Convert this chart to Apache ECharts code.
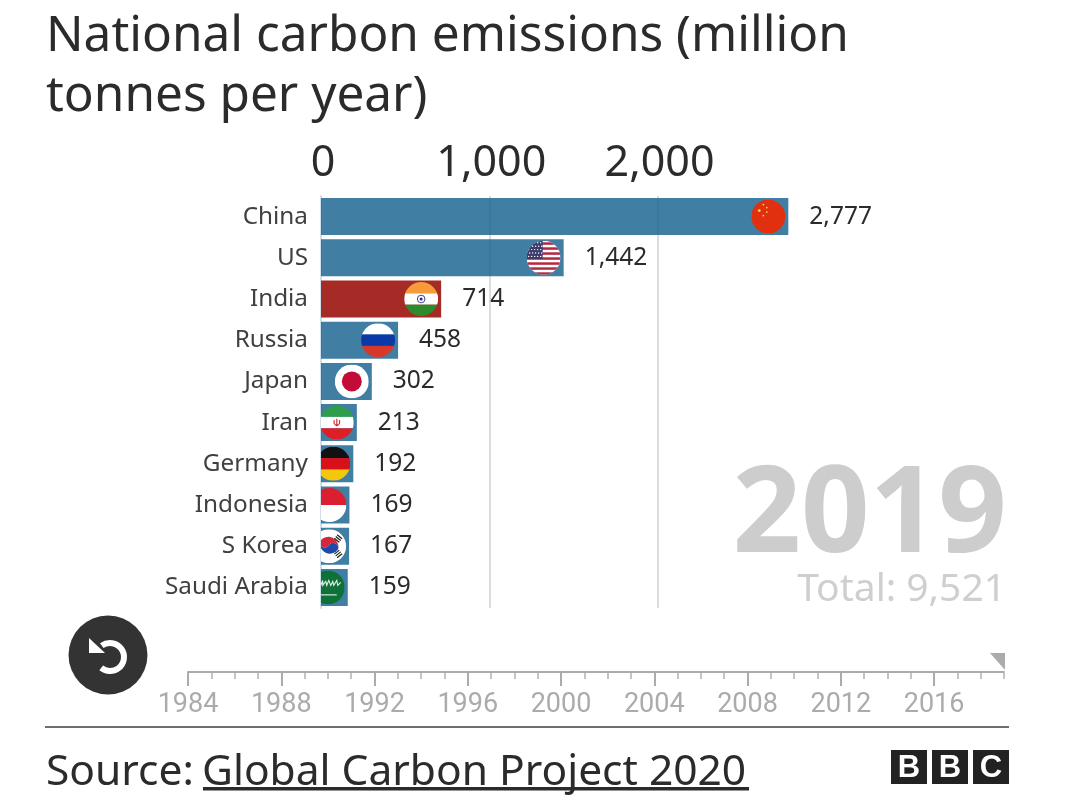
<!DOCTYPE html>
<html>
<head>
<meta charset="utf-8">
<title>National carbon emissions</title>
<style>html,body{margin:0;padding:0;background:#fff}#chart{width:1075px;height:806px}</style>
<script src="https://cdn.jsdelivr.net/npm/echarts@6/dist/echarts.min.js"></script>
</head>
<body>
<div id="chart"></div>
<script>
const chartTitle = 'National carbon emissions (million\ntonnes per year)';
const countries = ['China', 'US', 'India', 'Russia', 'Japan', 'Iran', 'Germany', 'Indonesia', 'S Korea', 'Saudi Arabia'];
const emissions = [2777, 1442, 714, 458, 302, 213, 192, 169, 167, 159];
const highlighted = 'India';
const currentYear = 2019;
const firstYear = 1984;
const totalEmissions = 9521;
const sourceLabel = 'Source: ';
const sourceName = 'Global Carbon Project 2020';

const INK = '#2b2b2b';
const BAR_BLUE = 'rgba(16,94,141,0.8)'; // translucent so gridlines show faintly through the bars
const BAR_RED = '#a62a26';
const FONT = '"Noto Sans", sans-serif';
const FLAG_R = 17;

// Circular flag artwork, one SVG body per country on a 34x34 canvas.
function stripes() {
  let s = '<rect width="34" height="34" fill="#fff"/>';
  for (let i = 0; i < 7; i++) {
    s += '<rect y="' + (1.5 + i * 5) + '" width="34" height="2.5" fill="#b5283f"/>';
  }
  s += '<rect width="16" height="18" fill="#3c3b6e"/>';
  for (let r = 0; r < 5; r++) {
    for (let c = 0; c < 5; c++) {
      s += '<circle cx="' + (2 + c * 3 + (r % 2)) + '" cy="' + (2 + r * 3.4) + '" r=".7" fill="#fff"/>';
    }
  }
  return s;
}
const flagArt = {
  'China': '<rect width="34" height="34" fill="#e0300f"/>' +
    '<circle cx="8" cy="11" r="1.4" fill="#f6d84a"/><circle cx="12" cy="5" r=".9" fill="#f6d84a"/>' +
    '<circle cx="15.5" cy="8" r=".9" fill="#f6d84a"/><circle cx="15.5" cy="12.5" r=".9" fill="#f6d84a"/>' +
    '<circle cx="12" cy="16" r=".9" fill="#f6d84a"/>',
  'US': stripes(),
  'India': '<rect width="34" height="11.3" fill="#f79a3a"/><rect y="11.3" width="34" height="11.4" fill="#fff"/>' +
    '<rect y="22.7" width="34" height="11.3" fill="#2e8b2c"/>' +
    '<circle cx="17" cy="17" r="3.8" fill="#fff" stroke="#2a2a80" stroke-width=".9"/><circle cx="17" cy="17" r="1.5" fill="#2a2a80"/>',
  'Russia': '<rect width="34" height="11.3" fill="#fff"/><rect y="11.3" width="34" height="11.4" fill="#0b3aa8"/>' +
    '<rect y="22.7" width="34" height="11.3" fill="#d8382a"/>',
  'Japan': '<rect width="34" height="34" fill="#fff"/><circle cx="17" cy="17" r="10" fill="#c40a36"/>',
  'Iran': '<rect width="34" height="11.3" fill="#2f9e4a"/><rect y="11.3" width="34" height="11.4" fill="#fff"/>' +
    '<rect y="22.7" width="34" height="11.3" fill="#de1f26"/>' +
    '<path d="M17 13.2v7M14.5 14.5c-1 2.5 0 5 2.5 5.5c2.5-.5 3.5-3 2.5-5.5" fill="none" stroke="#c8202a" stroke-width="1.1"/>',
  'Germany': '<rect width="34" height="11.3" fill="#111"/><rect y="11.3" width="34" height="11.4" fill="#d8101a"/>' +
    '<rect y="22.7" width="34" height="11.3" fill="#f5c70c"/>',
  'Indonesia': '<rect width="34" height="17" fill="#dc1f30"/><rect y="17" width="34" height="17" fill="#fff"/>',
  'S Korea': '<rect width="34" height="34" fill="#fff"/>' +
    '<path d="M8 12a10 10 0 0 1 18 8a5 5 0 0 0-9-4a5 5 0 0 1-9-4z" fill="#d5263a"/>' +
    '<path d="M8 12a10 10 0 0 0 18 8a5 5 0 0 0-9-4a5 5 0 0 1-9-4z" fill="#1f4aa8"/>' +
    '<path d="M25 5.5l5 4M23.6 7.3l5 4M22.2 9.100l5 4M25 28.500l5-4M23.600 26.700l5-4M22.200 24.900l5-4" stroke="#222" stroke-width="1.2"/>',
  'Saudi Arabia': '<rect width="34" height="34" fill="#0e7238"/>' +
    '<path d="M2 15l3-3l1 3l2-4l2 4l2-5v5l3-4l1 4l2-5l2 5l2-4l1 4l3-5l1 5l3-3" fill="none" stroke="#e4efe8" stroke-width="1.1"/>' +
    '<path d="M2 24.500h24" stroke="#fff" stroke-width="1"/>'
};
function flagImage(name) {
  const svg = '<svg xmlns="http://www.w3.org/2000/svg" width="68" height="68" viewBox="0 0 34 34">' +
    '<defs><clipPath id="c"><circle cx="17" cy="17" r="17"/></clipPath></defs>' +
    '<g clip-path="url(#c)">' + flagArt[name] + '</g></svg>';
  return 'data:image/svg+xml;charset=utf-8,' + encodeURIComponent(svg);
}

const chart = echarts.init(document.getElementById('chart'), null, { renderer: 'canvas' });

chart.setOption({
  animation: false,
  backgroundColor: '#fff',
  title: {
    text: chartTitle,
    left: 46, top: 7, padding: 0,
    textStyle: { fontFamily: FONT, fontWeight: 400, fontSize: 49.5, lineHeight: 60, color: INK }
  },
  grid: [
    { left: 321, top: 196, width: 488, height: 412 },
    { left: 188, top: 672, width: 816, height: 1 }
  ],
  xAxis: [
    {
      gridIndex: 0, type: 'value', position: 'top', min: 0, max: 2900, interval: 1000,
      axisLine: { show: false }, axisTick: { show: false },
      splitLine: { show: true, showMinLine: false, showMaxLine: false, lineStyle: { color: '#dcdcdc', width: 2 } },
      axisLabel: {
        margin: 11, padding: [0, 0, 0, 4], showMaxLabel: false, fontFamily: FONT, fontSize: 43, color: INK,
        formatter: v => v.toLocaleString('en-US')
      }
    },
    {
      // yearly minor ticks along the timeline
      gridIndex: 1, type: 'value', position: 'top', min: firstYear, max: currentYear, interval: 1,
      axisLine: { show: false }, splitLine: { show: false }, axisLabel: { show: false },
      axisTick: { inside: true, length: 6, lineStyle: { color: '#c4c4c4', width: 2 } }
    },
    {
      // four-yearly labelled ticks along the timeline
      gridIndex: 1, type: 'value', position: 'top', min: firstYear, max: currentYear, interval: 4,
      splitLine: { show: false },
      axisLine: { show: true, lineStyle: { color: '#ababab', width: 2 } },
      axisTick: { inside: true, length: 14, lineStyle: { color: '#ababab', width: 2 } },
      axisLabel: {
        inside: true, margin: 20, showMaxLabel: false, fontFamily: 'Roboto, sans-serif', fontSize: 27, color: '#ababab',
        formatter: v => String(v)
      }
    }
  ],
  yAxis: [
    {
      gridIndex: 0, type: 'category', inverse: true, data: countries,
      axisTick: { show: false },
      axisLine: { show: true, lineStyle: { color: '#cfe0ea', width: 2 } },
      axisLabel: { margin: 13, padding: [0, 0, 6, 0], fontFamily: FONT, fontSize: 24.3, color: '#404040' }
    },
    { gridIndex: 1, type: 'value', min: 0, max: 1, show: false }
  ],
  series: [
    {
      type: 'bar', xAxisIndex: 0, yAxisIndex: 0, barWidth: 37,
      data: emissions.map((v, i) => ({
        value: v,
        itemStyle: { color: countries[i] === highlighted ? BAR_RED : BAR_BLUE }
      })),
      label: {
        show: true, position: 'right', distance: 21, padding: [0, 0, 6, 0],
        fontFamily: FONT, fontSize: 24.5, color: INK,
        formatter: p => p.value.toLocaleString('en-US')
      }
    },
    {
      // flag discs sit just inside each bar's end and are cut off at the axis
      type: 'custom', xAxisIndex: 0, yAxisIndex: 0, clip: true, z: 4,
      data: emissions.map((v, i) => [v, i]),
      encode: { x: 0, y: 1 },
      renderItem: (params, api) => {
        const p = api.coord([api.value(0), api.value(1)]);
        return {
          type: 'image',
          style: {
            image: flagImage(countries[params.dataIndex]),
            x: p[0] - 20 - FLAG_R, y: p[1] - FLAG_R, width: FLAG_R * 2, height: FLAG_R * 2
          }
        };
      }
    },
    {
      // current-year marker on the timeline
      type: 'custom', xAxisIndex: 2, yAxisIndex: 1, clip: false, z: 4,
      data: [[currentYear, 0]],
      encode: { x: 0, y: 1 },
      renderItem: (params, api) => {
        const p = api.coord([api.value(0), 1]);
        return {
          type: 'polygon',
          shape: { points: [[p[0] - 14, p[1] - 19], [p[0] + 1, p[1] - 19], [p[0] + 1, p[1] - 2]] },
          style: { fill: '#ababab' }
        };
      }
    }
  ],
  graphic: [
    { type: 'text', z: 1, style: { text: String(currentYear), x: 1007, y: 518, align: 'right', verticalAlign: 'middle', font: 'bold 120px "Noto Sans", sans-serif', fill: '#cdcdcd' } },
    { type: 'text', z: 1, style: { text: 'Total: ' + totalEmissions.toLocaleString('en-US'), x: 1006, y: 590, align: 'right', verticalAlign: 'middle', font: '39px "Noto Sans", sans-serif', fill: '#cfcfcf' } },

    // replay button
    { type: 'circle', shape: { cx: 108, cy: 655, r: 39.5 }, style: { fill: '#333' } },
    { type: 'arc', shape: { cx: 110, cy: 657, r: 14, startAngle: -2.2, endAngle: 2.25, clockwise: true }, style: { fill: 'none', stroke: '#fff', lineWidth: 6 } },
    { type: 'polygon', shape: { points: [[89, 638], [89, 653], [105, 653]] }, style: { fill: '#fff' } },

    // footer
    { type: 'rect', shape: { x: 45, y: 726, width: 964, height: 2 }, style: { fill: '#6e6e6e' } },
    { type: 'text', style: { text: sourceLabel, x: 46, y: 773, verticalAlign: 'middle', font: '42.5px "Noto Sans", sans-serif', fill: INK } },
    { type: 'text', style: { text: sourceName, x: 202, y: 773, verticalAlign: 'middle', font: '42.5px "Noto Sans", sans-serif', fill: INK } },
    { type: 'rect', shape: { x: 203, y: 787, width: 546, height: 3.5 }, style: { fill: INK } },

    // broadcaster blocks
    { type: 'rect', shape: { x: 891, y: 750, width: 36, height: 34 }, style: { fill: '#222' } },
    { type: 'rect', shape: { x: 932, y: 750, width: 36, height: 34 }, style: { fill: '#222' } },
    { type: 'rect', shape: { x: 973, y: 750, width: 36, height: 34 }, style: { fill: '#222' } },
    { type: 'text', style: { text: 'B', x: 909, y: 768, align: 'center', verticalAlign: 'middle', font: 'bold 31px "Liberation Sans", sans-serif', fill: '#fff' } },
    { type: 'text', style: { text: 'B', x: 950, y: 768, align: 'center', verticalAlign: 'middle', font: 'bold 31px "Liberation Sans", sans-serif', fill: '#fff' } },
    { type: 'text', style: { text: 'C', x: 991, y: 768, align: 'center', verticalAlign: 'middle', font: 'bold 31px "Liberation Sans", sans-serif', fill: '#fff' } }
  ]
});
</script>
</body>
</html>
